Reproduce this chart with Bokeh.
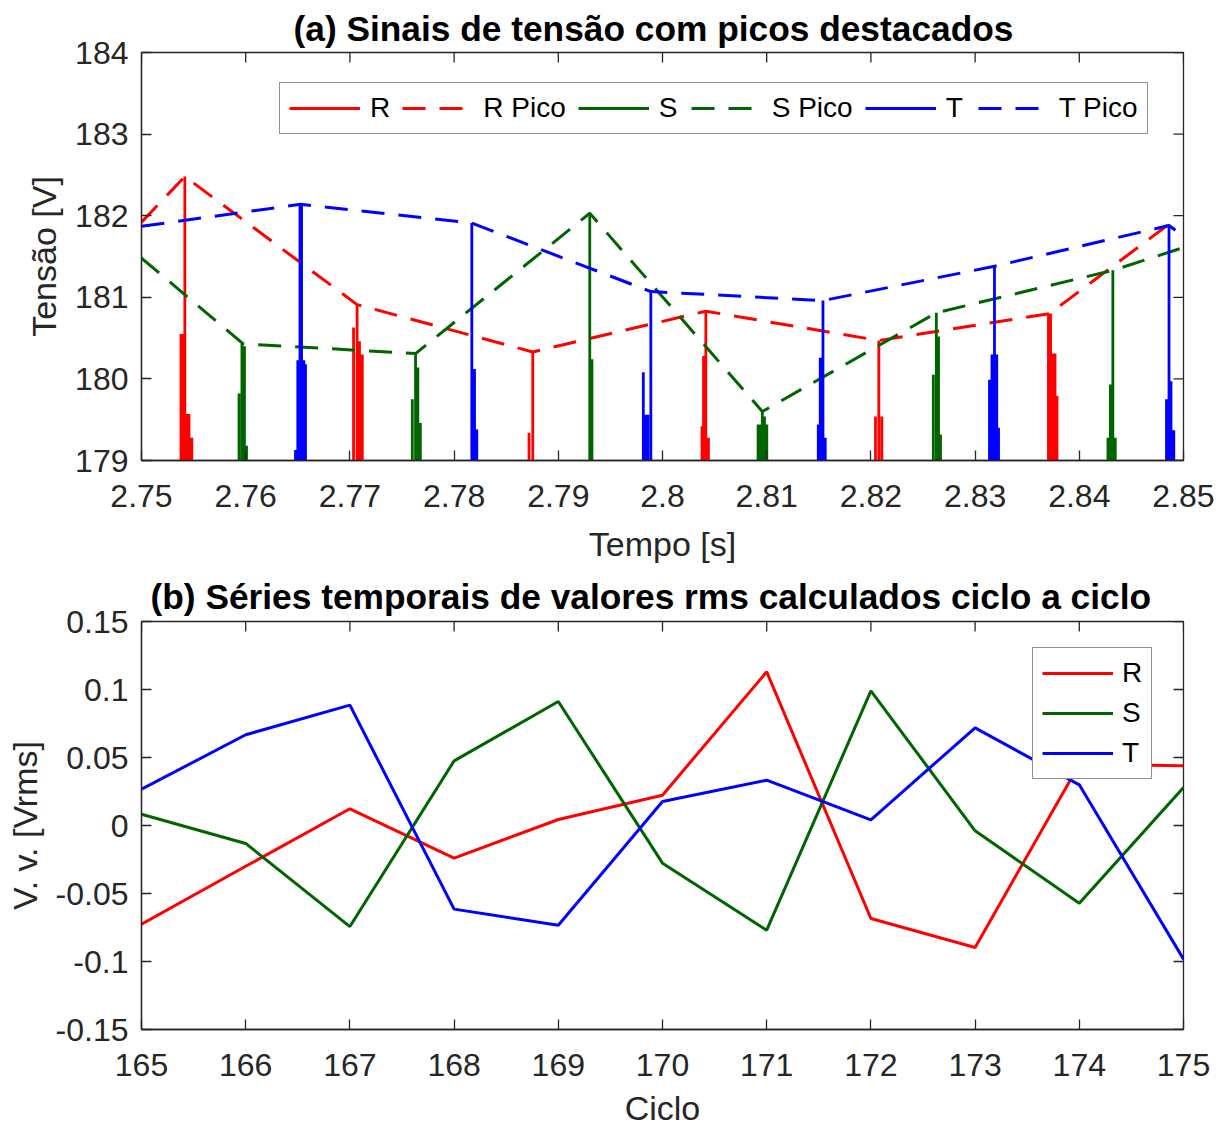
import math
from bokeh.plotting import figure
from bokeh.layouts import column
from bokeh.models import FixedTicker, Legend, LegendItem, Range1d
from bokeh.embed import file_html
from bokeh.resources import INLINE

# ---------------- Panel (a): voltage signals near their peaks ----------------
# Solid signals: noisy waveform samples that rise above 179 V near each peak
r_spike_t = [2.75379, 2.75393, 2.75416, 2.75440, 2.75456, 2.75470, 2.75483,
             2.77035, 2.77069, 2.77092, 2.77119,
             2.78719, 2.78755,
             2.80379, 2.80394, 2.80416, 2.80441,
             2.82044, 2.82076, 2.82105,
             2.83704, 2.83724, 2.83748, 2.83767, 2.83786]
r_spike_v = [180.55, 180.55, 182.48, 179.57, 179.57, 179.28, 179.28,
             180.63, 180.91, 180.46, 180.30,
             179.34, 180.33,
             179.42, 180.28, 180.83, 179.28,
             179.54, 180.47, 179.54,
             180.80, 180.80, 180.31, 180.31, 179.79]

s_spike_t = [2.75936, 2.75964, 2.75988, 2.76008,
             2.77599, 2.77630, 2.77652, 2.77676,
             2.79302, 2.79323,
             2.80917, 2.80936, 2.80958, 2.80979, 2.81001,
             2.82599, 2.82628, 2.82649, 2.82668,
             2.84275, 2.84298, 2.84322, 2.84345]
s_spike_v = [179.82, 180.43, 180.40, 179.18,
             179.75, 180.31, 180.14, 179.46,
             182.03, 180.24,
             179.44, 179.44, 179.60, 179.54, 179.44,
             180.05, 180.81, 180.52, 179.32,
             179.28, 179.93, 181.33, 179.28]

t_spike_t = [2.76478, 2.76500, 2.76521, 2.76536, 2.76558, 2.76574,
             2.78170, 2.78196, 2.78218,
             2.79816, 2.79837, 2.79859, 2.79888,
             2.81495, 2.81514, 2.81540, 2.81562,
             2.83138, 2.83162, 2.83186, 2.83208, 2.83225,
             2.84837, 2.84861, 2.84880, 2.84907]
t_spike_v = [179.13, 180.23, 182.14, 182.14, 180.23, 180.18,
             181.91, 180.12, 179.38,
             180.08, 179.56, 179.56, 181.07,
             179.44, 180.26, 180.96, 179.28,
             179.99, 180.30, 181.38, 180.30, 179.40,
             179.75, 181.88, 179.97, 179.37]

signal_trough = 178.0  # waveform value between peaks (below the visible range)

# Peak envelopes ("Pico")
r_peak_t = [2.75, 2.75416, 2.77069, 2.78755, 2.80416, 2.82076, 2.83714, 2.84875]
r_peak_v = [181.92, 182.48, 180.91, 180.33, 180.83, 180.47, 180.80, 181.91]
s_peak_t = [2.75, 2.75976, 2.77630, 2.79302, 2.80958, 2.82628, 2.84322, 2.85]
s_peak_v = [181.48, 180.43, 180.31, 182.03, 179.60, 180.81, 181.33, 181.61]
t_peak_t = [2.75, 2.76526, 2.78170, 2.79888, 2.81540, 2.83186, 2.84861, 2.85]
t_peak_v = [181.87, 182.14, 181.91, 181.07, 180.96, 181.38, 181.88, 181.75]

a_xticks = [2.75, 2.76, 2.77, 2.78, 2.79, 2.8, 2.81, 2.82, 2.83, 2.84, 2.85]
a_xlabels = ["2.75", "2.76", "2.77", "2.78", "2.79", "2.8", "2.81", "2.82", "2.83", "2.84", "2.85"]
a_yticks = [179, 180, 181, 182, 183, 184]
a_ylabels = ["179", "180", "181", "182", "183", "184"]

# ---------------- Panel (b): cycle-by-cycle rms deviations ----------------
ciclo = [165, 166, 167, 168, 169, 170, 171, 172, 173, 174, 175]
rms_r = [-0.0725, -0.030, 0.0123, -0.024, 0.0044, 0.0223, 0.113, -0.0684, -0.0897, 0.045, 0.044]
rms_s = [0.0083, -0.0132, -0.0743, 0.0475, 0.0912, -0.0277, -0.077, 0.099, -0.0039, -0.0571, 0.0279]
rms_t = [0.0267, 0.0667, 0.0885, -0.0615, -0.0733, 0.0176, 0.0333, 0.0042, 0.0718, 0.0299, -0.0983]

b_xticks = [165, 166, 167, 168, 169, 170, 171, 172, 173, 174, 175]
b_xlabels = ["165", "166", "167", "168", "169", "170", "171", "172", "173", "174", "175"]
b_yticks = [-0.15, -0.1, -0.05, 0, 0.05, 0.1, 0.15]
b_ylabels = ["-0.15", "-0.1", "-0.05", "0", "0.05", "0.1", "0.15"]

# ---------------- styling ----------------
FONT = "Liberation Sans"
TXT = "#262626"
RED, GREEN, BLUE = "#FF0000", "#006400", "#0000FF"
DASH = "23 14"
TICK_LEN = 10


def spike_path(ts, vs, trough):
    xs, ys = [], []
    for t, v in zip(ts, vs):
        xs += [t, t, t]
        ys += [trough, v, trough]
    return xs, ys


def style_axis(ax):
    ax.major_tick_in = TICK_LEN
    ax.major_tick_out = 0
    ax.minor_tick_in = 0
    ax.minor_tick_out = 0
    ax.axis_line_color = TXT
    ax.axis_line_width = 1.3
    ax.major_tick_line_color = TXT
    ax.major_tick_line_width = 1.3
    ax.major_label_text_font = FONT
    ax.major_label_text_color = TXT
    ax.major_label_text_font_size = "32px"
    ax.major_label_standoff = 13
    ax.axis_label_text_font = FONT
    ax.axis_label_text_color = TXT
    ax.axis_label_text_font_style = "normal"
    ax.axis_label_text_font_size = "34px"


def make_fig(height, xr, yr, xticks, xlabels, yticks, ylabels, title, title_offset,
             title_standoff, xlabel, ylabel, mb_top, mb_bottom,
             xtick_standoff, xlab_standoff, ylab_standoff):
    p = figure(width=1218, height=height, output_backend="svg", toolbar_location=None,
               x_range=Range1d(*xr), y_range=Range1d(*yr),
               min_border_left=141, min_border_right=35,
               min_border_top=mb_top, min_border_bottom=mb_bottom)
    p.title.text = title
    p.title.text_font = FONT
    p.title.text_font_size = "35.3px"
    p.title.text_font_style = "bold"
    p.title.text_color = "black"
    p.title.align = "left"
    p.title.offset = title_offset
    p.title.standoff = title_standoff
    p.grid.visible = False
    p.outline_line_color = TXT
    p.outline_line_width = 1.3
    p.background_fill_color = "white"
    p.border_fill_color = "white"

    p.xaxis.ticker = FixedTicker(ticks=xticks)
    p.xaxis.major_label_overrides = dict(zip(xticks, xlabels))
    p.yaxis.ticker = FixedTicker(ticks=yticks)
    p.yaxis.major_label_overrides = dict(zip(yticks, ylabels))
    p.xaxis.axis_label = xlabel
    p.yaxis.axis_label = ylabel
    for ax in p.xaxis + p.yaxis:
        style_axis(ax)
    p.xaxis.major_label_standoff = xtick_standoff
    p.xaxis.axis_label_standoff = xlab_standoff
    p.yaxis.axis_label_standoff = ylab_standoff

    # mirrored inward ticks on the top and right edges of the box
    p.ray(x=xticks, y=[yr[1]] * len(xticks), length=TICK_LEN, length_units="screen",
          angle=-math.pi / 2, line_color=TXT, line_width=1.3)
    p.ray(x=[xr[1]] * len(yticks), y=yticks, length=TICK_LEN, length_units="screen",
          angle=math.pi, line_color=TXT, line_width=1.3)
    return p


def style_legend(lg):
    lg.label_text_font = FONT
    lg.label_text_font_size = "28px"
    lg.label_text_color = "black"
    lg.glyph_width = 71
    lg.glyph_height = 32
    lg.label_height = 32
    lg.border_line_color = TXT
    lg.border_line_width = 1.3
    lg.background_fill_color = "white"
    lg.background_fill_alpha = 1.0
    lg.margin = 0


# ---------- figure (a) ----------
pa = make_fig(567, (2.75, 2.85), (179, 184), a_xticks, a_xlabels, a_yticks, a_ylabels,
              "(a) Sinais de tensão com picos destacados", 152, 10,
              "Tempo [s]", "Tensão [V]", 52, 107, 24, 15, 9)

rx, ry = spike_path(r_spike_t, r_spike_v, signal_trough)
sx, sy = spike_path(s_spike_t, s_spike_v, signal_trough)
tx, ty = spike_path(t_spike_t, t_spike_v, signal_trough)

r_sig = pa.line(rx, ry, line_color=RED, line_width=2.8)
r_pk = pa.line(r_peak_t, r_peak_v, line_color=RED, line_width=3, line_dash=DASH)
s_sig = pa.line(sx, sy, line_color=GREEN, line_width=2.8)
s_pk = pa.line(s_peak_t, s_peak_v, line_color=GREEN, line_width=3, line_dash=DASH)
t_sig = pa.line(tx, ty, line_color=BLUE, line_width=2.8)
t_pk = pa.line(t_peak_t, t_peak_v, line_color=BLUE, line_width=3, line_dash=DASH)

leg_a = Legend(items=[LegendItem(label="R", renderers=[r_sig]),
                      LegendItem(label="R Pico", renderers=[r_pk]),
                      LegendItem(label="S", renderers=[s_sig]),
                      LegendItem(label="S Pico", renderers=[s_pk]),
                      LegendItem(label="T", renderers=[t_sig]),
                      LegendItem(label="T Pico", renderers=[t_pk])],
               orientation="horizontal", location=(138, 326))
style_legend(leg_a)
leg_a.label_standoff = 10
leg_a.spacing = 12
leg_a.padding = 9
pa.add_layout(leg_a)

# ---------- figure (b) ----------
pb = make_fig(562, (165, 175), (-0.15, 0.15), b_xticks, b_xlabels, b_yticks, b_ylabels,
              "(b) Séries temporais de valores rms calculados ciclo a ciclo", 9, 12,
              "Ciclo", "V. v. [Vrms]", 54, 100, 24, 10, 9)

lr = pb.line(ciclo, rms_r, line_color=RED, line_width=3)
ls = pb.line(ciclo, rms_s, line_color=GREEN, line_width=3)
lt = pb.line(ciclo, rms_t, line_color=BLUE, line_width=3)

leg_b = Legend(items=[LegendItem(label="R", renderers=[lr]),
                      LegendItem(label="S", renderers=[ls]),
                      LegendItem(label="T", renderers=[lt])],
               orientation="vertical", location=(891, 250))
style_legend(leg_b)
leg_b.label_standoff = 9
leg_b.spacing = 8
leg_b.padding = 9
pb.add_layout(leg_b)

layout = column(pa, pb, spacing=0)
open("out.html", "w").write(file_html(layout, INLINE))
